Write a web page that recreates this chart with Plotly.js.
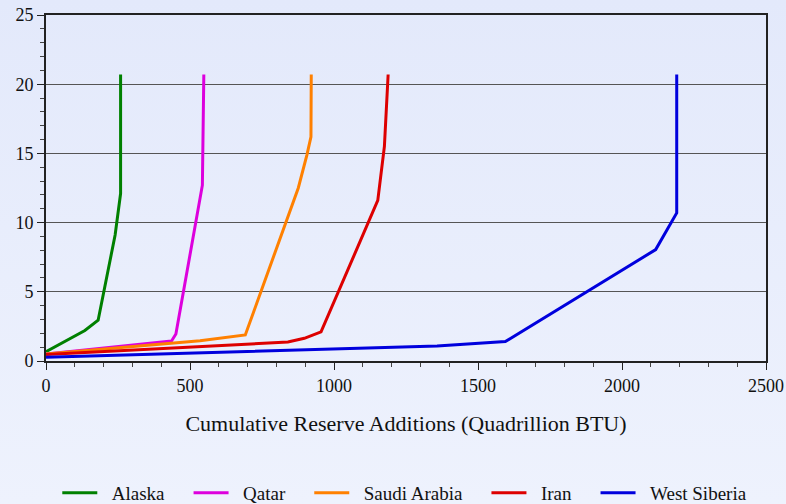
<!DOCTYPE html>
<html>
<head>
<meta charset="utf-8">
<script src="https://cdn.plot.ly/plotly-3.0.1.min.js"></script>
<style>
html,body{margin:0;padding:0;}
body{width:786px;height:504px;background:linear-gradient(180deg,#E3E9FB 0%,#EEF2FD 100%);}
#chart{width:786px;height:504px;}
</style>
</head>
<body>
<div id="chart"></div>
<script>
const seriesNames = ["Alaska", "Qatar", "Saudi Arabia", "Iran", "West Siberia"];
const seriesColors = ["#008000", "#DD00DD", "#FF8000", "#DD0000", "#0000DD"];

const alaskaX = [0, 135, 181, 240, 259, 259];
const alaskaY = [0.67, 2.2, 2.95, 9.1, 12.1, 20.7];

const qatarX = [0, 436, 451, 543, 548];
const qatarY = [0.5, 1.45, 1.95, 12.7, 20.7];

const saudiX = [0, 535, 692, 876, 906, 920, 921];
const saudiY = [0.5, 1.47, 1.88, 12.5, 14.9, 16.2, 20.7];

const iranX = [0, 840, 897, 955, 1152, 1175, 1188];
const iranY = [0.47, 1.37, 1.64, 2.1, 11.6, 15.5, 20.7];

const siberiaX = [0, 1358, 1595, 2117, 2190, 2190];
const siberiaY = [0.27, 1.08, 1.4, 8.05, 10.7, 20.7];

const xs = [alaskaX, qatarX, saudiX, iranX, siberiaX];
const ys = [alaskaY, qatarY, saudiY, iranY, siberiaY];

const lead = "\u00a0\u00a0";
const pad = "\u00a0\u00a0\u00a0\u00a0";
const traces = seriesNames.map((n, i) => ({
  type: "scatter", mode: "lines", name: lead + n + (i < seriesNames.length - 1 ? pad : ""),
  x: xs[i], y: ys[i],
  line: {color: seriesColors[i], width: 3}
}));

const fam = "Liberation Serif, Times New Roman, serif";

const layout = {
  width: 786, height: 504,
  paper_bgcolor: "rgba(0,0,0,0)", plot_bgcolor: "rgba(0,0,0,0)",
  font: {family: fam, color: "#111", size: 18},
  margin: {l: 46, r: 20, t: 15, b: 143, autoexpand: false},
  showlegend: true,
  legend: {orientation: "h", x: 0.515, xanchor: "center", xref: "container",
           y: 0.022, yanchor: "middle", yref: "container", itemwidth: 35,
           font: {family: fam, size: 19, color: "#111"}, bgcolor: "rgba(0,0,0,0)"},
  xaxis: {
    range: [0, 2500], dtick: 500, tick0: 0,
    showgrid: false, zeroline: false,
    showline: true, linecolor: "#222", linewidth: 2, mirror: true,
    ticks: "outside", ticklen: 7, tickcolor: "#222", tickwidth: 1,
    minor: {dtick: 100, ticks: "outside", ticklen: 4, tickcolor: "#444", showgrid: false},
    tickfont: {size: 18},
    title: {text: "Cumulative Reserve Additions (Quadrillion BTU)", font: {size: 22}, standoff: 21}
  },
  yaxis: {
    range: [0, 25], dtick: 5, tick0: 0,
    showgrid: true, gridcolor: "#555", gridwidth: 1,
    zeroline: false,
    showline: true, linecolor: "#222", linewidth: 2, mirror: true,
    ticks: "outside", ticklen: 7, tickcolor: "#222", tickwidth: 1,
    minor: {dtick: 1, ticks: "outside", ticklen: 4, tickcolor: "#444", showgrid: false},
    tickfont: {size: 18}
  }
};

Plotly.newPlot("chart", traces, layout, {displayModeBar: false, staticPlot: true});
</script>
</body>
</html>
